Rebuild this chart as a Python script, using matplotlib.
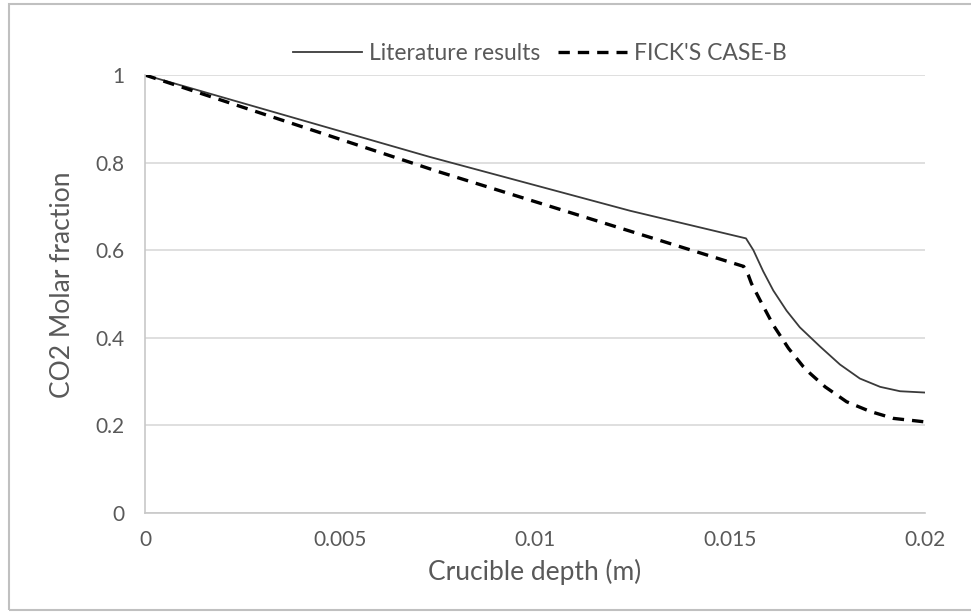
import matplotlib.pyplot as plt
from matplotlib.patches import Rectangle

# data
depth_lit = [0.0, 0.0073, 0.01244, 0.01541, 0.0156, 0.01585, 0.01611, 0.01645, 0.01679,
             0.01731, 0.01782, 0.01833, 0.01885, 0.01936, 0.0200]
frac_lit = [1.0, 0.813, 0.690, 0.627, 0.600, 0.552, 0.508, 0.462, 0.424,
            0.380, 0.339, 0.307, 0.288, 0.278, 0.275]

depth_fick = [0.0, 0.0075, 0.01535, 0.01547, 0.01555, 0.01577, 0.01611, 0.0165, 0.01688,
              0.01705, 0.01744, 0.01799, 0.01859, 0.01919, 0.0200]
frac_fick = [1.0, 0.780, 0.563, 0.543, 0.524, 0.486, 0.429, 0.376, 0.334,
             0.319, 0.288, 0.254, 0.232, 0.216, 0.208]

xticks = [0, 0.005, 0.01, 0.015, 0.02]
xtick_labels = ['0', '0.005', '0.01', '0.015', '0.02']
yticks = [0, 0.2, 0.4, 0.6, 0.8, 1.0]
ytick_labels = ['0', '0.2', '0.4', '0.6', '0.8', '1']

plt.rcParams['font.family'] = ['Lato', 'DejaVu Sans']
grey = '#595959'

fig = plt.figure(figsize=(9.71, 6.12), dpi=100)
ax = fig.add_axes([145 / 971, 1 - 513 / 612, 780 / 971, 438 / 612])

ax.plot(depth_lit, frac_lit, color='#3a3a3a', lw=1.3, label='Literature results')
ax.plot(depth_fick, frac_fick, color='black', lw=2.4, dashes=(3.4, 2.4), label="FICK'S CASE-B")

ax.set_xlim(0, 0.02)
ax.set_ylim(0, 1)
ax.set_xticks(xticks)
ax.set_xticklabels(xtick_labels)
ax.set_yticks(yticks)
ax.set_yticklabels(ytick_labels)
ax.tick_params(length=0, labelsize=15, colors=grey)
ax.tick_params(axis='x', pad=12)
ax.tick_params(axis='y', pad=15)
ax.yaxis.grid(True, color='#d9d9d9', lw=1.2)
ax.set_axisbelow(True)
for s in ['top', 'right']:
    ax.spines[s].set_visible(False)
for s in ['left', 'bottom']:
    ax.spines[s].set_color('#c8c8c8')
    ax.spines[s].set_linewidth(1.2)

# axis titles placed where the reference has them
fig.text(535 / 971, 1 - 572 / 612, 'Crucible depth (m)', fontsize=19, color=grey,
         ha='center', va='center')
fig.text(63 / 971, 1 - 285 / 612, 'CO2 Molar fraction', fontsize=19, color=grey,
         ha='center', va='center', rotation=90)

fig.legend(loc='center', bbox_to_anchor=(540 / 971, 1 - 54 / 612), ncol=2, frameon=False,
           fontsize=16.5, handlelength=3.0, handletextpad=0.3, columnspacing=0.8,
           labelcolor=grey)

# thin frame around the picture
fig.patches.append(Rectangle((9 / 971, 2 / 612), 1.1, 606 / 612, transform=fig.transFigure,
                             fill=False, edgecolor='#c0c0c0', lw=1.5))

fig.savefig('out.png', dpi=100, facecolor='white')
